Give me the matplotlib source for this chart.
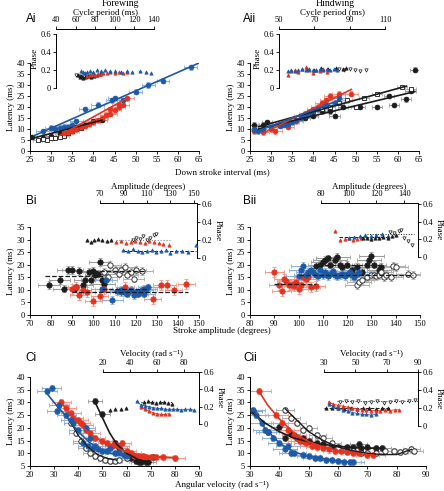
import numpy as np
import matplotlib
matplotlib.use('Agg')
import matplotlib.pyplot as plt

plt.rcParams['font.family'] = ['Liberation Serif', 'DejaVu Serif']
plt.rcParams['font.size'] = 6.5

W, H = 444, 491

# ---------------- data: panel Ai (forewing, latency vs down stroke interval)
ai_bl_x = [28, 30, 31, 32, 33, 34, 35, 36, 38, 41, 44.5, 47, 50, 53, 56.5, 63, 45]
ai_bl_y = [9, 10.5, 10, 10.5, 11, 11, 12, 13.5, 19, 21, 23, 23, 27, 30, 32, 38, 24]
ai_rd_x = [33, 34, 35, 36, 37, 38, 39, 40, 41, 42, 43, 44, 45, 46, 47, 48, 46, 44]
ai_rd_y = [8, 8.5, 9, 10, 11, 11.5, 12.5, 13, 14, 15, 16.5, 17, 18.5, 20, 21, 24, 21, 19]
ai_bk_x = [25.5, 28, 30, 32, 35, 36, 38, 40, 42, 30]
ai_bk_y = [6.5, 6, 7, 8, 10, 11, 12, 13.5, 14, 6.5]
ai_op_x = [27, 28, 29, 30, 31, 32, 33, 34, 35, 36, 37]
ai_op_y = [5, 5.5, 5, 6, 6, 6.5, 7, 8, 9, 10, 10.5]
ai_fit_bl = ([26, 65], [7, 40])
ai_fit_rd = ([32, 48], [7, 24])
ai_fit_bk = ([25, 42], [5.5, 14])
# inset Ai (phase vs cycle period)
ai_in_bl_x = [66, 68, 70, 72, 75, 78, 82, 86, 90, 95, 100, 106, 112, 118, 126, 132, 137]
ai_in_bl_y = [0.19, 0.18, 0.17, 0.18, 0.19, 0.18, 0.2, 0.19, 0.2, 0.19, 0.19, 0.18, 0.19, 0.18, 0.19, 0.18, 0.17]
ai_in_rd_x = [72, 75, 78, 80, 83, 86, 88, 92, 95, 100, 104, 108, 112]
ai_in_rd_y = [0.13, 0.14, 0.15, 0.14, 0.15, 0.16, 0.17, 0.17, 0.18, 0.17, 0.18, 0.17, 0.18]
ai_in_bk_x = [62, 64, 66, 68, 70, 73, 76, 79, 82, 85]
ai_in_bk_y = [0.14, 0.12, 0.13, 0.11, 0.12, 0.13, 0.12, 0.13, 0.14, 0.15]
ai_in_op_x = [60, 63, 66, 69, 72, 75]
ai_in_op_y = [0.14, 0.13, 0.12, 0.13, 0.12, 0.13]

# ---------------- data: panel Aii (hindwing)
aii_bl_x = [26, 27, 28, 30, 32, 33, 34, 35, 36, 37, 38, 39, 40, 41, 43, 45, 46]
aii_bl_y = [10, 9, 10, 11, 11.5, 12, 12.5, 13, 14, 15, 16, 17, 18, 19, 21, 22, 24]
aii_rd_x = [26, 28, 30, 31, 32, 34, 36, 37, 38, 40, 41, 42, 43, 44, 46, 49]
aii_rd_y = [9, 8.5, 10, 9, 12, 11, 13.5, 16, 17, 19, 20, 22, 23, 25, 26, 26]
aii_bk_x = [26, 28, 29, 32, 34, 36, 38, 40, 42, 44, 45, 47, 51, 55, 58, 59, 62, 63, 64]
aii_bk_y = [12, 12, 13, 12, 13, 14, 15, 16, 18, 18, 16, 20, 20, 20, 25, 21, 23.5, 27.5, 37]
aii_op_x = [36, 38, 40, 42, 44, 46, 48, 50, 52, 55, 61, 63]
aii_op_y = [14, 16, 18, 19, 20, 22, 23, 20, 24, 26, 29, 28]
aii_fit_bl = ([26, 46], [8.5, 23])
aii_fit_rd = ([28, 49], [8, 28])
aii_fit_bk = ([27, 64], [10, 27])
aii_fit_op = ([27, 62], [11, 29.5])
aii_in_bl_x = [55, 57, 59, 61, 63, 65, 67, 69, 71, 73, 75, 77, 79, 81, 83]
aii_in_bl_y = [0.19, 0.2, 0.19, 0.2, 0.21, 0.2, 0.21, 0.2, 0.2, 0.21, 0.2, 0.21, 0.2, 0.21, 0.2]
aii_in_rd_x = [55, 57, 59, 61, 63, 65, 67, 69, 71, 73, 75, 77]
aii_in_rd_y = [0.14, 0.19, 0.2, 0.18, 0.21, 0.23, 0.2, 0.17, 0.2, 0.19, 0.21, 0.18]
aii_in_bk_x = [66, 70, 74, 78, 82, 86, 88]
aii_in_bk_y = [0.21, 0.2, 0.22, 0.21, 0.22, 0.21, 0.22]
aii_in_op_x = [84, 87, 90, 93, 96, 99]
aii_in_op_y = [0.21, 0.2, 0.21, 0.2, 0.19, 0.2]

# ---------------- data: panel Bi (latency vs stroke amplitude)
bi_bk_x = [79, 84, 86, 88, 90, 92, 93, 95, 96, 98, 99, 100, 101, 102, 103, 104, 105, 91]
bi_bk_y = [12, 14, 10.5, 18, 18, 11, 17.5, 12, 14, 17, 14, 17.5, 16, 16.5, 21, 14, 12.5, 10.5]
bi_op_x = [105, 107, 108, 110, 112, 113, 115, 116, 118, 119, 120, 123]
bi_op_y = [17, 15, 20, 18, 16.5, 18, 19, 16, 17, 14.5, 18, 17.5]
bi_rd_x = [90, 92, 93, 95, 97, 100, 103, 105, 115, 128, 132, 135, 138, 144]
bi_rd_y = [10.5, 11, 8, 10, 9, 5.5, 7.5, 10.5, 11, 6.5, 12, 12, 10, 12.5]
bi_bl_x = [104, 106, 109, 111, 113, 113, 115, 116, 117, 118, 119, 120, 121, 122, 123, 124, 124, 125, 126]
bi_bl_y = [10.5, 14, 6, 9.5, 9, 10, 9, 8.5, 9.5, 10, 8, 9, 8.5, 9, 10, 10.5, 8.5, 10.5, 11]
bi_mean_bk = ([77, 105], [15.5, 15.5])
bi_mean_op = ([100, 125], [17.5, 17.5])
bi_mean_rd = ([90, 145], [9, 9])
bi_mean_bl = ([104, 126], [10.5, 10.5])
bi_in_bk_x = [59, 62, 65, 68, 72, 76, 79]
bi_in_bk_y = [0.2, 0.18, 0.2, 0.21, 0.2, 0.19, 0.2]
bi_in_op_x = [98, 101, 104, 107, 110, 113, 116, 118]
bi_in_op_y = [0.2, 0.22, 0.21, 0.24, 0.2, 0.22, 0.25, 0.27]
bi_in_rd_x = [84, 88, 92, 96, 100, 104, 108, 112, 116, 120, 124, 129]
bi_in_rd_y = [0.18, 0.19, 0.17, 0.18, 0.19, 0.18, 0.17, 0.19, 0.18, 0.17, 0.15, 0.14]
bi_in_bl_x = [90, 94, 98, 102, 106, 110, 114, 118, 122, 126, 130, 135, 140, 145, 152]
bi_in_bl_y = [0.09, 0.08, 0.1, 0.08, 0.07, 0.08, 0.09, 0.07, 0.08, 0.09, 0.06, 0.08, 0.08, 0.07, 0.14]
bi_in_mean_bl = ([90, 152], [0.08, 0.08])
bi_in_mean_gy = ([84, 130], [0.2, 0.2])

# ---------------- data: panel Bii
bii_rd_x = [90, 92, 93, 94, 95, 96, 97, 98, 98, 99, 100, 101, 102, 103, 104, 105, 107]
bii_rd_y = [17, 12, 9.5, 14.5, 13.5, 12, 12, 11.5, 12.5, 13, 10.5, 12, 15, 14.5, 15, 11, 11.5]
bii_bl_x = [100, 101, 102, 103, 104, 105, 106, 107, 108, 109, 110, 111, 112, 113, 114, 115, 116, 117, 118, 119, 120, 121, 122, 123, 124, 125]
bii_bl_y = [15.5, 18, 19.5, 16, 17, 18, 17, 16, 15.5, 18, 16, 17, 15.5, 16.5, 17.5, 16, 15.5, 16, 16.5, 15.5, 16.5, 17, 16, 15, 16.5, 17]
bii_bk_x = [107, 109, 110, 111, 112, 113, 115, 116, 117, 118, 120, 122, 124, 126, 128, 129, 130, 131, 133, 134]
bii_bk_y = [19.5, 20, 21, 22, 22.5, 20, 22, 23, 20, 19, 20, 18, 19, 17, 20, 22, 23.5, 20, 18, 19]
bii_op_x = [124, 125, 126, 128, 130, 131, 132, 133, 134, 135, 136, 138, 139, 140, 145, 147]
bii_op_y = [12, 13, 14, 15, 16, 16, 15.5, 16, 17, 15, 16, 15, 19.5, 19, 16.5, 16]
bii_mean_rd = ([90, 107], [12.5, 12.5])
bii_mean_bl = ([100, 125], [16, 16])
bii_mean_bk = ([108, 134], [20, 20])
bii_mean_op = ([125, 147], [16, 16])
bii_in_rd_x = [90, 94, 97, 100, 103, 106, 109]
bii_in_rd_y = [0.29, 0.19, 0.2, 0.21, 0.19, 0.2, 0.21]
bii_in_bl_x = [100, 104, 108, 112, 116, 120, 124, 128]
bii_in_bl_y = [0.22, 0.23, 0.24, 0.25, 0.24, 0.25, 0.26, 0.24]
bii_in_bk_x = [110, 113, 116, 119, 122, 125, 128, 131, 134]
bii_in_bk_y = [0.21, 0.22, 0.2, 0.22, 0.21, 0.23, 0.22, 0.24, 0.25]
bii_in_op_x = [130, 133, 136, 138, 140, 143, 146]
bii_in_op_y = [0.28, 0.27, 0.29, 0.3, 0.22, 0.18, 0.14]
bii_in_mean_a = ([93, 128], [0.23, 0.23])
bii_in_mean_b = ([113, 147], [0.26, 0.26])

# ---------------- data: panel Ci (latency vs angular velocity)
ci_bl_x = [27, 29, 31, 32, 35, 37, 38, 40, 42, 43, 44, 45, 46, 47, 48, 50, 52, 53, 55, 57, 59, 60]
ci_bl_y = [34.5, 35.5, 26.5, 29, 25, 23, 22, 19, 14, 20, 13, 16, 12, 13, 11.5, 11, 11, 12, 10, 10.5, 9.5, 9]
ci_rd_x = [33, 35, 37, 38, 40, 41, 42, 43, 45, 47, 50, 52, 54, 55, 57, 58, 60, 62, 63, 65, 67, 68, 70, 72, 75, 80]
ci_rd_y = [30, 28, 26, 24, 23, 22, 21, 19, 18, 16, 15, 14, 13, 13.5, 13, 14, 11, 10, 9, 9, 9, 8.5, 8.5, 8.5, 8.5, 8]
ci_bk_x = [47, 50, 55, 57, 60, 62, 64, 65, 66, 68, 69, 71]
ci_bk_y = [30.5, 25.5, 14, 12, 10, 8, 7, 6.5, 6.5, 6.5, 6.5, 8.5]
ci_op_x = [37, 39, 41, 43, 45, 47, 49, 51, 53, 55, 57, 60]
ci_op_y = [22, 18, 15, 12, 10, 9, 8, 7.5, 7, 7, 7.5, 8]
ci_fit_bl = ([27, 30, 35, 40, 45, 50, 55, 60], [33.5, 30, 24.5, 18.5, 14, 11, 9.5, 9])
ci_fit_rd = ([33, 36, 40, 45, 50, 55, 60, 65, 70, 80], [30, 26, 22, 17.5, 14.5, 12.5, 10.5, 9.5, 8.8, 8.3])
ci_fit_bk = ([47, 50, 53, 56, 60, 65, 70], [30, 24, 18, 13.5, 10, 7.5, 6.5])
ci_fit_op = ([37, 40, 44, 48, 52, 56], [22, 17, 12.5, 9.5, 8, 7.3])
ci_in_bk_x = [50, 53, 56, 59, 62, 65, 68, 71]
ci_in_bk_y = [0.25, 0.26, 0.25, 0.24, 0.25, 0.25, 0.24, 0.23]
ci_in_bk2_x = [25, 29, 33, 37]
ci_in_bk2_y = [0.16, 0.17, 0.17, 0.18]
ci_in_bl_x = [45, 48, 51, 54, 57, 60, 63, 66, 69, 72, 75, 78, 81, 84, 87]
ci_in_bl_y = [0.26, 0.22, 0.21, 0.2, 0.19, 0.18, 0.18, 0.17, 0.17, 0.17, 0.17, 0.16, 0.17, 0.17, 0.16]
ci_in_rd_x = [48, 51, 54, 57, 60, 63, 66, 69]
ci_in_rd_y = [0.2, 0.17, 0.15, 0.13, 0.12, 0.11, 0.11, 0.12]
ci_in_mean_bk = ([48, 72], [0.25, 0.25])

# ---------------- data: panel Cii
cii_bl_x = [31, 32, 34, 35, 36, 38, 40, 42, 43, 44, 45, 48, 50, 52, 54, 56, 58, 60, 62, 64, 65]
cii_bl_y = [27, 25, 22, 19, 18.5, 16, 14, 11.5, 13, 10, 10, 9.5, 9, 8, 8, 7.5, 7.5, 7, 6.5, 6.5, 6.5]
cii_rd_x = [33, 39, 41, 43, 45, 46, 47, 48, 49, 51, 53, 55, 57, 59, 61, 63, 65, 67, 70, 72]
cii_rd_y = [34.5, 25, 22, 19, 17, 16, 15, 15, 14, 13, 12.5, 12, 11.5, 11, 11, 10.5, 10, 10, 9.5, 9.5]
cii_bk_x = [31, 36, 40, 42, 44, 46, 48, 50, 53, 55, 58, 60, 63, 65, 67, 68, 70, 73, 75]
cii_bk_y = [26.5, 18.5, 20.5, 16, 17.5, 16, 16, 15, 14, 13.5, 13, 12.5, 12.5, 12.5, 13.5, 12, 12.5, 12, 12]
cii_op_x = [42, 44, 46, 48, 50, 53, 55, 58, 60, 63, 65, 68, 70, 73, 76, 79, 81, 83, 85, 86]
cii_op_y = [27, 24, 22, 19, 20, 17, 16, 14, 12, 11, 11, 10, 10, 10, 11, 11, 10.5, 11, 11.5, 11]
cii_fit_bl = ([31, 35, 40, 45, 50, 55, 60, 65], [27, 20, 14, 10.5, 8.8, 7.8, 7, 6.5])
cii_fit_rd = ([33, 36, 40, 45, 50, 55, 60, 65, 70, 72], [34.5, 29, 23.5, 18, 14.5, 12.5, 11, 10, 9.5, 9.3])
cii_fit_bk = ([31, 35, 40, 45, 50, 55, 60, 65, 70, 75], [26, 22, 18.5, 16, 14.5, 13.5, 12.8, 12.3, 12, 12])
cii_fit_op = ([42, 46, 50, 55, 60, 65, 70, 75, 80, 85], [27.5, 23, 18.5, 15, 12.5, 11, 10, 9.5, 9.5, 11.5])
cii_in_rd_x = [33, 36, 39, 42, 45, 48, 51, 54, 57, 60, 63, 66, 69, 72, 75, 78]
cii_in_rd_y = [0.27, 0.24, 0.23, 0.22, 0.21, 0.2, 0.19, 0.18, 0.18, 0.17, 0.17, 0.17, 0.18, 0.17, 0.18, 0.18]
cii_in_bl_x = [33, 36, 39, 42, 45, 48, 51, 54, 57, 60, 63]
cii_in_bl_y = [0.24, 0.22, 0.2, 0.18, 0.17, 0.15, 0.14, 0.13, 0.13, 0.12, 0.13]
cii_in_bk_x = [31, 35, 39, 43, 47, 51, 55, 59, 63, 67, 71]
cii_in_bk_y = [0.2, 0.2, 0.2, 0.19, 0.2, 0.19, 0.2, 0.2, 0.19, 0.2, 0.2]
cii_in_op_x = [40, 44, 48, 52, 56, 60, 64, 68, 72, 76, 80, 84, 88]
cii_in_op_y = [0.27, 0.28, 0.27, 0.28, 0.26, 0.27, 0.28, 0.26, 0.27, 0.28, 0.27, 0.28, 0.29]
cii_in_mean_bk = ([30, 72], [0.2, 0.2])
cii_in_mean_op = ([38, 90], [0.28, 0.28])

# x / y error half-widths per series: (xerr, yerr)
err_a = {'bk': (1.2, 1.0), 'op': (1.2, 1.0), 'rd': (1.5, 1.2), 'bl': (1.5, 1.2)}
err_b = {'bk': (5, 1.5), 'op': (5, 1.5), 'rd': (4, 2.0), 'bl': (5, 1.5)}
err_c = {'bk': (3, 1.2), 'op': (3, 1.2), 'rd': (4, 1.2), 'bl': (4, 1.2)}

COL = {'bk': '#1c1c1c', 'op': '#1c1c1c', 'rd': '#e5321f', 'bl': '#1d5aa5'}
PALE = {'bk': '#9c9c9c', 'op': '#b0b0b0', 'rd': '#f4978c', 'bl': '#8eb0da'}
TICK = 6
VEL = 'Velocity (rad s\u207b\u00b9)'


def rect(l, t, r, b):
    return [l / W, 1 - b / H, (r - l) / W, (b - t) / H]


def main_ax(fig, box, xlim, ylim, xt, yt):
    ax = fig.add_axes(rect(*box))
    ax.set_xlim(*xlim)
    ax.set_ylim(*ylim)
    ax.set_xticks(xt)
    ax.set_yticks(yt)
    for s in ['top', 'right']:
        ax.spines[s].set_visible(False)
    ax.spines['left'].set_linewidth(0.7)
    ax.spines['bottom'].set_linewidth(0.7)
    ax.tick_params(direction='out', length=2.5, width=0.6, labelsize=TICK, pad=1)
    ax.set_ylabel('Latency (ms)', fontsize=6.5, labelpad=1)
    ax.patch.set_alpha(0)
    return ax


def inset_ax(fig, box, xlim, ylim, xt, xlabel, side, lpad=1):
    ax = fig.add_axes(rect(*box))
    ax.patch.set_alpha(0)
    ax.set_xlim(*xlim)
    ax.set_ylim(*ylim)
    ax.set_xticks(xt)
    ax.set_yticks([0, 0.2, 0.4, 0.6])
    ax.set_yticklabels(['0', '0.2', '0.4', '0.6'])
    ax.spines['bottom'].set_visible(False)
    ax.spines['left' if side == 'right' else 'right'].set_visible(False)
    ax.spines[side].set_bounds(0, 0.6)
    for s in ['top', side]:
        ax.spines[s].set_linewidth(0.7)
    ax.xaxis.tick_top()
    ax.xaxis.set_label_position('top')
    if side == 'right':
        ax.yaxis.tick_right()
        ax.yaxis.set_label_position('right')
        ax.set_ylabel('Phase', fontsize=6.5, rotation=270, labelpad=7)
    else:
        ax.set_ylabel('Phase', fontsize=6.5, labelpad=1)
    ax.set_xlabel(xlabel, fontsize=6.5, labelpad=lpad)
    ax.tick_params(direction='out', length=2.5, width=0.6, labelsize=TICK, pad=1)
    return ax


def pts(ax, x, y, kind, err, ms=3.8, open_mk='o'):
    xe, ye = err[kind]
    ax.errorbar(x, y, xerr=xe, yerr=ye, fmt='none', ecolor=PALE[kind],
                elinewidth=0.8, capsize=1.2, capthick=0.6, zorder=2)
    face = 'white' if kind == 'op' else COL[kind]
    mk = open_mk if kind == 'op' else 'o'
    ax.plot(x, y, mk, ms=ms, mfc=face, mec=COL[kind], mew=0.6, zorder=3)


def ipts(ax, x, y, kind, line=None):
    face = 'white' if kind == 'op' else COL[kind]
    mk = 'v' if kind == 'op' else '^'
    if line:
        ax.plot(x, y, line, color=COL[kind], lw=0.6, zorder=2, clip_on=False)
    ax.plot(x, y, mk, ms=2.4, mfc=face, mec=COL[kind], mew=0.5, zorder=3, clip_on=False)


def fit(ax, xy, kind, ls='-', lw=1.2):
    ax.plot(xy[0], xy[1], ls, color=COL[kind], lw=lw, zorder=4)


fig = plt.figure(figsize=(W / 100, H / 100), dpi=100)

# ---------------- row A
ax = main_ax(fig, (30, 63, 199, 151), (25, 65), (0, 40), range(25, 66, 5), range(0, 41, 5))
for k, x, y in [('bk', ai_bk_x, ai_bk_y), ('op', ai_op_x, ai_op_y),
                ('rd', ai_rd_x, ai_rd_y), ('bl', ai_bl_x, ai_bl_y)]:
    pts(ax, x, y, k, err_a, open_mk='s', ms=3.4)
fit(ax, ai_fit_bk, 'bk')
fit(ax, ai_fit_rd, 'rd')
fit(ax, ai_fit_bl, 'bl')
ins = inset_ax(fig, (56, 29, 154, 88), (40, 140), (0, 0.655), range(40, 141, 20), 'Cycle period (ms)', 'left')
ipts(ins, ai_in_op_x, ai_in_op_y, 'op')
ipts(ins, ai_in_bk_x, ai_in_bk_y, 'bk')
ipts(ins, ai_in_rd_x, ai_in_rd_y, 'rd')
ipts(ins, ai_in_bl_x, ai_in_bl_y, 'bl')

ax = main_ax(fig, (250, 63, 419, 151), (25, 65), (0, 40), range(25, 66, 5), range(0, 41, 5))
for k, x, y in [('bk', aii_bk_x, aii_bk_y), ('op', aii_op_x, aii_op_y),
                ('rd', aii_rd_x, aii_rd_y), ('bl', aii_bl_x, aii_bl_y)]:
    pts(ax, x, y, k, err_a, open_mk='s', ms=3.4)
fit(ax, aii_fit_bk, 'bk')
fit(ax, aii_fit_op, 'op')
fit(ax, aii_fit_rd, 'rd')
fit(ax, aii_fit_bl, 'bl')
ins = inset_ax(fig, (279, 29, 385, 88), (50, 110), (0, 0.655), range(50, 111, 20), 'Cycle period (ms)', 'left')
ipts(ins, aii_in_op_x, aii_in_op_y, 'op')
ipts(ins, aii_in_bk_x, aii_in_bk_y, 'bk')
ipts(ins, aii_in_rd_x, aii_in_rd_y, 'rd')
ipts(ins, aii_in_bl_x, aii_in_bl_y, 'bl')

# ---------------- row B
ax = main_ax(fig, (30, 227, 199, 315), (70, 150), (0, 35), range(70, 151, 10), range(0, 36, 5))
for k, x, y in [('bk', bi_bk_x, bi_bk_y), ('op', bi_op_x, bi_op_y),
                ('rd', bi_rd_x, bi_rd_y), ('bl', bi_bl_x, bi_bl_y)]:
    pts(ax, x, y, k, err_b)
for m in [bi_mean_bk, bi_mean_op, bi_mean_rd, bi_mean_bl]:
    ax.plot(m[0], m[1], '--', color='#1c1c1c', lw=0.9, zorder=4)
ins = inset_ax(fig, (100, 203, 197, 258), (70, 152.6), (0, 0.611), range(70, 151, 20), 'Amplitude (degrees)', 'right')
ins.plot(bi_in_mean_gy[0], bi_in_mean_gy[1], ':', color='#888888', lw=0.8)
ins.plot(bi_in_mean_bl[0], bi_in_mean_bl[1], '--', color='#1c1c1c', lw=0.7)
ipts(ins, bi_in_bk_x, bi_in_bk_y, 'bk')
ipts(ins, bi_in_op_x, bi_in_op_y, 'op')
ipts(ins, bi_in_rd_x, bi_in_rd_y, 'rd')
ipts(ins, bi_in_bl_x, bi_in_bl_y, 'bl')

ax = main_ax(fig, (250, 227, 420, 315), (80, 150), (0, 35), range(80, 151, 10), range(0, 36, 5))
for k, x, y in [('bk', bii_bk_x, bii_bk_y), ('op', bii_op_x, bii_op_y),
                ('rd', bii_rd_x, bii_rd_y), ('bl', bii_bl_x, bii_bl_y)]:
    pts(ax, x, y, k, err_b)
for m in [bii_mean_bk, bii_mean_op, bii_mean_rd, bii_mean_bl]:
    ax.plot(m[0], m[1], '--', color='#1c1c1c', lw=0.9, zorder=4)
ins = inset_ax(fig, (321, 203, 418, 257), (80, 150), (0, 0.611), range(80, 141, 20), 'Amplitude (degrees)', 'right')
ins.plot(bii_in_mean_a[0], bii_in_mean_a[1], '--', color='#1c1c1c', lw=0.7)
ins.plot(bii_in_mean_b[0], bii_in_mean_b[1], ':', color='#1c1c1c', lw=0.7)
ipts(ins, bii_in_rd_x, bii_in_rd_y, 'rd')
ipts(ins, bii_in_bl_x, bii_in_bl_y, 'bl')
ipts(ins, bii_in_bk_x, bii_in_bk_y, 'bk')
ipts(ins, bii_in_op_x, bii_in_op_y, 'op')

# ---------------- row C
ax = main_ax(fig, (30, 377, 199, 466), (20, 90), (5, 40), range(20, 91, 10), range(5, 41, 5))
for k, x, y in [('bk', ci_bk_x, ci_bk_y), ('op', ci_op_x, ci_op_y),
                ('rd', ci_rd_x, ci_rd_y), ('bl', ci_bl_x, ci_bl_y)]:
    pts(ax, x, y, k, err_c)
fit(ax, ci_fit_op, 'op', lw=0.9)
fit(ax, ci_fit_bk, 'bk')
fit(ax, ci_fit_rd, 'rd')
fit(ax, ci_fit_bl, 'bl')
ins = inset_ax(fig, (103, 372, 199, 424), (20, 91), (0, 0.6), range(20, 81, 20), VEL, 'right', lpad=2)
ins.plot(ci_in_mean_bk[0], ci_in_mean_bk[1], ':', color='#1c1c1c', lw=0.8)
ipts(ins, ci_in_bk2_x, ci_in_bk2_y, 'bk')
ipts(ins, ci_in_bk_x, ci_in_bk_y, 'bk')
ipts(ins, ci_in_rd_x, ci_in_rd_y, 'rd', line='-')
ipts(ins, ci_in_bl_x, ci_in_bl_y, 'bl', line='-')

ax = main_ax(fig, (250, 377, 426, 466), (30, 90), (5, 40), range(30, 91, 10), range(5, 41, 5))
for k, x, y in [('bk', cii_bk_x, cii_bk_y), ('op', cii_op_x, cii_op_y),
                ('rd', cii_rd_x, cii_rd_y), ('bl', cii_bl_x, cii_bl_y)]:
    pts(ax, x, y, k, err_c)
fit(ax, cii_fit_op, 'op', lw=1.0)
fit(ax, cii_fit_bk, 'bk')
fit(ax, cii_fit_rd, 'rd')
fit(ax, cii_fit_bl, 'bl')
ins = inset_ax(fig, (324, 372, 418, 426), (30, 90), (0, 0.6), range(30, 91, 20), VEL, 'right', lpad=2)
ins.plot(cii_in_mean_bk[0], cii_in_mean_bk[1], '--', color='#1c1c1c', lw=0.7)
ins.plot(cii_in_mean_op[0], cii_in_mean_op[1], ':', color='#1c1c1c', lw=0.7)
ipts(ins, cii_in_bk_x, cii_in_bk_y, 'bk')
ipts(ins, cii_in_op_x, cii_in_op_y, 'op')
ipts(ins, cii_in_rd_x, cii_in_rd_y, 'rd', line='-')
ipts(ins, cii_in_bl_x, cii_in_bl_y, 'bl', line='-')

# ---------------- shared labels and panel letters
fig.text(120 / W, 1 - 3 / H, 'Forewing', ha='center', va='center', fontsize=7)
fig.text(335 / W, 1 - 3 / H, 'Hindwing', ha='center', va='center', fontsize=7)
fig.text(222 / W, 1 - 172 / H, 'Down stroke interval (ms)', ha='center', va='center', fontsize=6.5)
fig.text(222 / W, 1 - 331 / H, 'Stroke amplitude (degrees)', ha='center', va='center', fontsize=6.5)
fig.text(222 / W, 1 - 485 / H, 'Angular velocity (rad s\u207b\u00b9)', ha='center', va='center', fontsize=6.5)
for lab, x, y in [('Ai', 26, 19), ('Aii', 243, 19), ('Bi', 26, 201),
                  ('Bii', 243, 201), ('Ci', 25, 358), ('Cii', 243, 358)]:
    fig.text(x / W, 1 - y / H, lab, ha='left', va='center', fontsize=8.5,
             family=['Liberation Sans', 'DejaVu Sans'])

fig.savefig('out.png', dpi=100)
